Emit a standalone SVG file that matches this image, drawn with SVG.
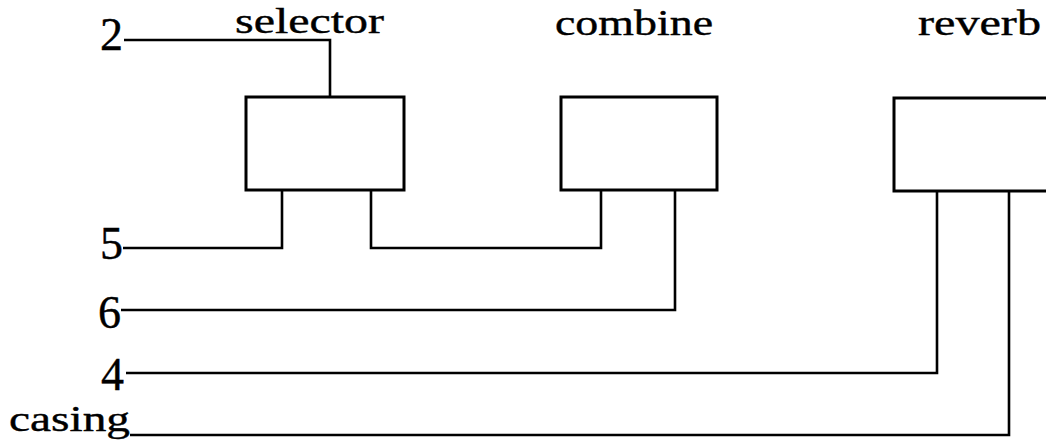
<svg xmlns="http://www.w3.org/2000/svg" width="1046" height="442" viewBox="0 0 1046 442">
<style>
.box{fill:#fff;stroke:#000;stroke-width:3}
.wire{fill:none;stroke:#000;stroke-width:2.6}
.lbl{font-family:"Liberation Serif","Times New Roman",serif;font-size:36px;fill:#000;stroke:#000;stroke-width:0.4}
.num{font-family:"Liberation Serif","Times New Roman",serif;font-size:46px;fill:#000;stroke:#000;stroke-width:0.4}
</style>
<rect width="1046" height="442" fill="#fff"/>
<g id="connectors">
<path class="wire" d="M124,40 H330 V97"/>
<path class="wire" d="M123,248 H282 V190"/>
<path class="wire" d="M371,190 V248 H601 V190"/>
<path class="wire" d="M121,310 H675 V190"/>
<path class="wire" d="M126,373 H937 V192"/>
<path class="wire" d="M130,435 H1009 V192"/>
</g>
<g id="selector">
<rect class="box" x="246" y="97" width="158" height="93"/>
<text class="lbl" x="235" y="33" textLength="149" lengthAdjust="spacingAndGlyphs">selector</text>
</g>
<g id="combine">
<rect class="box" x="561" y="97" width="156" height="93"/>
<text class="lbl" x="555" y="35" textLength="158" lengthAdjust="spacingAndGlyphs">combine</text>
</g>
<g id="reverb">
<rect class="box" x="894" y="98" width="160" height="93"/>
<text class="lbl" x="918" y="35" textLength="123" lengthAdjust="spacingAndGlyphs">reverb</text>
</g>
<g id="label-2"><text class="num" x="100" y="50">2</text></g>
<g id="label-5"><text class="num" x="100" y="259">5</text></g>
<g id="label-6"><text class="num" x="98" y="328">6</text></g>
<g id="label-4"><text class="num" x="101" y="390">4</text></g>
<g id="label-casing"><text class="lbl" x="9" y="431" textLength="121" lengthAdjust="spacingAndGlyphs">casing</text></g>
</svg>
